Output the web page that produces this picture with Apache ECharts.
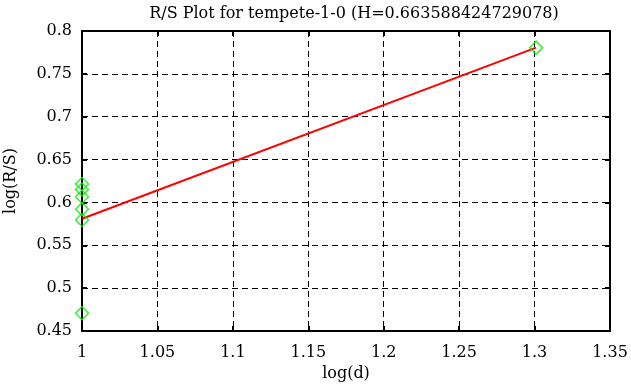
<!DOCTYPE html>
<html>
<head>
<meta charset="utf-8">
<script src="https://cdn.jsdelivr.net/npm/echarts@6/dist/echarts.min.js"></script>
<style>html,body{margin:0;padding:0;background:#fff;}#c{width:631px;height:387px;}</style>
</head>
<body>
<div id="c"></div>
<script>
const titleText = 'R/S Plot for tempete-1-0 (H=0.663588424729078)';
const xName = 'log(d)';
const yName = 'log(R/S)';
const pointsX = [1, 1, 1, 1, 1, 1, 1.30103];
const pointsY = [0.6215, 0.615, 0.6067, 0.592, 0.5795, 0.4707, 0.7806];
const fitX = [1, 1.30103];
const fitY = [0.5809, 0.7806];
const xMin = 1, xMax = 1.35, xStep = 0.05;
const yMin = 0.45, yMax = 0.8, yStep = 0.05;

const font = 'DejaVu Serif';
const fs = 16;
const fmt = v => String(+v.toFixed(2));
const chart = echarts.init(document.getElementById('c'), null, {renderer: 'canvas'});
const axisLine = {show: true, lineStyle: {color: '#000', width: 2}};
const tick = {show: true, inside: true, length: 5, lineStyle: {color: '#000', width: 2}};
const grid = {show: true, lineStyle: {color: '#000', width: 1, type: [6, 4]}};
chart.setOption({
  animation: false,
  backgroundColor: '#fff',
  title: {text: titleText, left: 349, top: 1, textAlign: 'center',
    textStyle: {fontFamily: font, fontSize: fs, fontWeight: 'normal', color: '#000'}},
  grid: {left: 82, right: 21, top: 31, bottom: 56, outerBoundsMode: 'none', containLabel: false},
  xAxis: [
    {type: 'value', min: xMin, max: xMax, interval: xStep, position: 'bottom',
     name: xName, nameLocation: 'middle', nameGap: 34,
     nameTextStyle: {fontFamily: font, fontSize: fs, color: '#000'},
     axisLine: axisLine, axisTick: tick, splitLine: grid,
     axisLabel: {formatter: fmt, fontFamily: font, fontSize: fs, color: '#000', margin: 14}},
    {type: 'value', min: xMin, max: xMax, interval: xStep, position: 'top',
     axisLine: axisLine, axisTick: tick, splitLine: {show: false}, axisLabel: {show: false}}
  ],
  yAxis: [
    {type: 'value', min: yMin, max: yMax, interval: yStep, position: 'left',
     name: yName, nameLocation: 'middle', nameGap: 63,
     nameTextStyle: {fontFamily: font, fontSize: fs, color: '#000'},
     axisLine: axisLine, axisTick: tick, splitLine: grid,
     axisLabel: {formatter: fmt, fontFamily: font, fontSize: fs, color: '#000', margin: 10}},
    {type: 'value', min: yMin, max: yMax, interval: yStep, position: 'right',
     axisLine: axisLine, axisTick: tick, splitLine: {show: false}, axisLabel: {show: false}}
  ],
  series: [
    {type: 'line', data: fitX.map((x, i) => [x, fitY[i]]), showSymbol: false, symbol: 'none',
     lineStyle: {color: '#ff0000', width: 2}, z: 2},
    {type: 'scatter', data: pointsX.map((x, i) => [x, pointsY[i]]), symbol: 'diamond', symbolSize: 13,
     itemStyle: {color: 'rgba(0,0,0,0)', borderColor: '#00ee00', borderWidth: 1.5}, z: 3}
  ]
});
</script>
</body>
</html>
